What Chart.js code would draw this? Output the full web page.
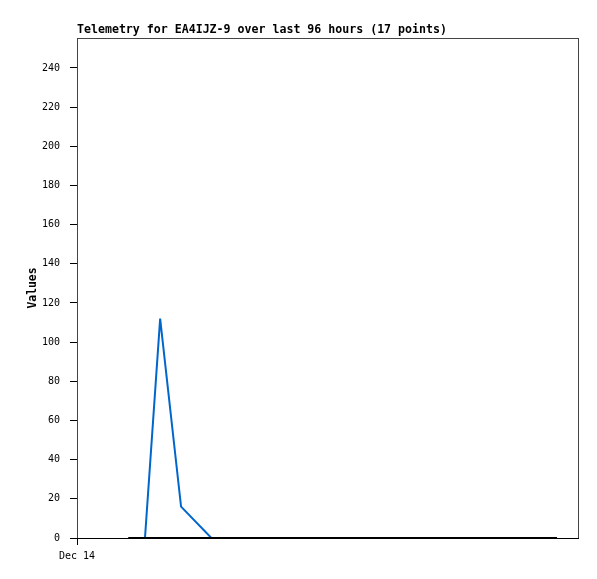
<!DOCTYPE html>
<html>
<head>
<meta charset="utf-8">
<script src="https://cdn.jsdelivr.net/npm/chart.js@4.4.1/dist/chart.umd.min.js"></script>
<style>
  html, body { margin: 0; padding: 0; background: #fff; }
  #wrap { width: 597px; height: 579px; position: relative; }
</style>
</head>
<body>
<div id="wrap"><canvas id="telemetryChart"></canvas></div>
<script>
// hours since Dec 14 00:00 and the value
const titleText = 'Telemetry for EA4IJZ-9 over last 96 hours (17 points)';
const xTickLabels = ['Dec 14'];
const xTickHours = [0];
const yTicks = [0, 20, 40, 60, 80, 100, 120, 140, 160, 180, 200, 220, 240];

const blueHours = [13.0, 15.9, 19.9, 25.7];
const blueValues = [0, 112, 16, 0];

const blackHours = [9.8, 20, 30, 40, 50, 60, 70, 80, 91.8];
const blackValues = [0, 0, 0, 0, 0, 0, 0, 0, 0];

const monoFont = "'DejaVu Sans Mono', 'Liberation Mono', monospace";

const toPoints = (xs, ys) => xs.map((x, i) => ({ x, y: ys[i] }));

// title over the plot's left edge + frame round the plot area
const framePlugin = {
    id: 'frame',
    afterDraw(chart) {
        const { ctx, chartArea } = chart;
        ctx.save();
        ctx.strokeStyle = '#444';
        ctx.lineWidth = 1;
        ctx.strokeRect(chartArea.left + 0.5, chartArea.top + 0.5,
            chartArea.right - chartArea.left - 1, chartArea.bottom - chartArea.top);
        // x axis line, running out to the zero tick
        ctx.strokeStyle = '#000';
        ctx.beginPath();
        ctx.moveTo(chartArea.left - 7, chartArea.bottom + 0.5);
        ctx.lineTo(chartArea.right, chartArea.bottom + 0.5);
        ctx.stroke();
        ctx.fillStyle = '#000';
        ctx.font = "bold 11.6px " + monoFont;
        ctx.textBaseline = 'alphabetic';
        ctx.fillText(titleText, chartArea.left, chartArea.top - 5);
        ctx.restore();
    }
};

new Chart(document.getElementById('telemetryChart'), {
    type: 'line',
    data: {
        datasets: [{
            label: 'zero',
            data: toPoints(blackHours, blackValues),
            borderColor: '#000',
            borderWidth: 2,
            pointRadius: 0,
            tension: 0,
            order: 0
        }, {
            label: 'value',
            data: toPoints(blueHours, blueValues),
            borderColor: '#0066cc',
            borderWidth: 2,
            pointRadius: 0,
            tension: 0,
            order: 1
        }]
    },
    plugins: [framePlugin],
    options: {
        responsive: true,
        maintainAspectRatio: false,
        animation: false,
        layout: { padding: { top: 38, right: 18, left: 0, bottom: 0 } },
        plugins: {
            legend: { display: false },
            tooltip: { enabled: false }
        },
        scales: {
            x: {
                type: 'linear',
                min: 0,
                max: 96,
                border: { display: false },
                grid: { drawOnChartArea: false, drawTicks: true, tickLength: 7, color: '#000' },
                afterBuildTicks: scale => { scale.ticks = xTickHours.map(v => ({ value: v })); },
                afterFit: scale => { scale.height = 41; },
                ticks: {
                    autoSkip: false,
                    maxRotation: 0,
                    padding: 5,
                    color: '#000',
                    font: { family: monoFont, size: 10 },
                    callback: (v) => xTickLabels[xTickHours.indexOf(v)] ?? ''
                }
            },
            y: {
                min: 0,
                max: 255.3,
                border: { display: false },
                grid: { drawOnChartArea: false, drawTicks: true, tickLength: 7, color: '#000' },
                afterBuildTicks: scale => { scale.ticks = yTicks.map(v => ({ value: v })); },
                afterFit: scale => { scale.width = 77; },
                title: {
                    display: true,
                    text: 'Values',
                    color: '#000',
                    font: { family: monoFont, size: 11.4, weight: 'bold' },
                    padding: { top: 26, bottom: 0 }
                },
                ticks: {
                    padding: 10,
                    color: '#000',
                    font: { family: monoFont, size: 10 }
                }
            }
        }
    }
});
</script>
</body>
</html>
